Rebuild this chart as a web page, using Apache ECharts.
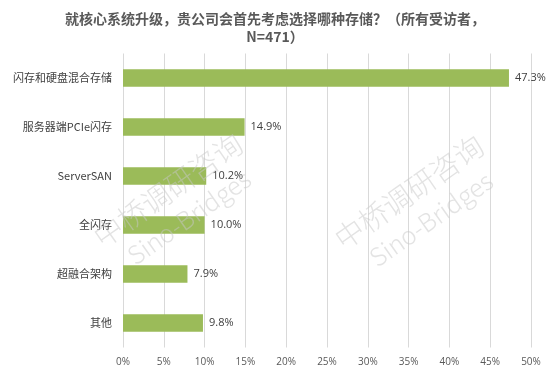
<!DOCTYPE html>
<html><head><meta charset="utf-8">
<script src="https://cdn.jsdelivr.net/npm/echarts@6/dist/echarts.min.js"></script>
<style>html,body{margin:0;padding:0;background:#fff}#c{width:550px;height:375px}</style>
</head><body><div id="c"></div>
<script>
const categories = ['闪存和硬盘混合存储','服务器端PCIe闪存','ServerSAN','全闪存','超融合架构','其他'];
const values = [47.3, 14.9, 10.2, 10.0, 7.9, 9.8];
const titleText = '就核心系统升级，贵公司会首先考虑选择哪种存储？（所有受访者，\nN=471）';
const watermarkCN = '中桥调研咨询';
const watermarkEN = 'Sino-Bridges';

const chart = echarts.init(document.getElementById('c'));
const rot = 35 * Math.PI / 180;
function wm(x, y, txt, size) {
  return {type:'text', x:x, y:y, rotation:rot, z:100,
    style:{text:txt, fill:'rgba(200,200,200,0.5)', font:'300 '+size+'px "Noto Sans CJK SC", sans-serif', align:'center', verticalAlign:'middle'}};
}
chart.setOption({
  animation:false,
  title:{text:titleText, left:'center', top:5,
    textStyle:{fontSize:14, fontWeight:'bold', color:'#595959', lineHeight:18, fontFamily:'"Noto Sans CJK SC", sans-serif'}},
  grid:{left:123, right:19, top:53.5, bottom:27.5, containLabel:false},
  xAxis:{type:'value', min:0, max:50, interval:5,
    axisLine:{show:false}, axisTick:{show:false},
    splitLine:{show:true, lineStyle:{color:'#d9d9d9', width:1}},
    axisLabel:{formatter:'{value}%', color:'#595959', fontSize:10, margin:10, fontFamily:'"Open Sans", sans-serif'}},
  yAxis:{type:'category', data:categories, inverse:true,
    axisLine:{show:false}, axisTick:{show:false},
    axisLabel:{color:'#404040', fontSize:11, margin:11, fontFamily:'"Noto Sans CJK SC", sans-serif'}},
  series:[{type:'bar', data:values, barWidth:17.5,
    itemStyle:{color:'#9BBB59'},
    label:{show:true, position:'right', distance:6, color:'#404040', fontSize:11,
      fontFamily:'"Open Sans", sans-serif',
      formatter:p=>p.value.toFixed(1)+'%'}}],
  graphic:[
    wm(168,190,watermarkCN,29), wm(189,217,watermarkEN,25),
    wm(409,192,watermarkCN,29), wm(431,219,watermarkEN,25)
  ]
});
</script></body></html>
